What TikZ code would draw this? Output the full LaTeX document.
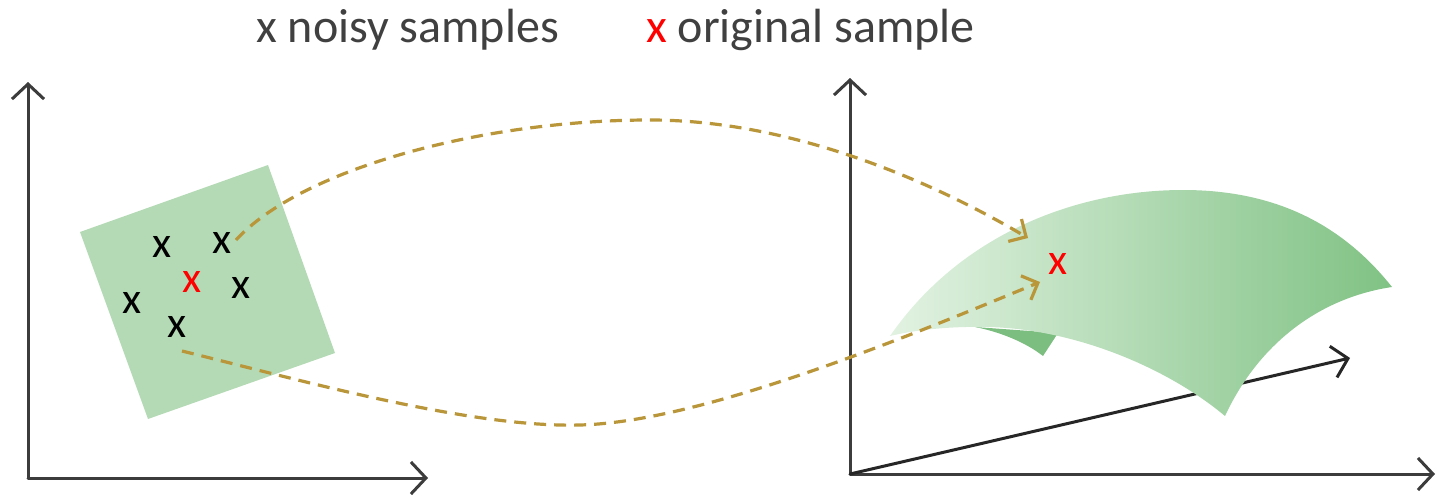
\documentclass[tikz,border=0pt]{standalone}
\usepackage{fontspec}
\setmainfont{Carlito}
\usetikzlibrary{arrows.meta}
\definecolor{axisgray}{RGB}{60,60,60}
\definecolor{flowgold}{RGB}{185,150,58}
\definecolor{patchgreen}{RGB}{180,218,181}
\definecolor{surfleft}{RGB}{226,242,226}
\definecolor{surfright}{RGB}{128,194,132}
\definecolor{flapgreen}{RGB}{124,189,128}
\definecolor{textgray}{RGB}{64,64,64}
\begin{document}
\begin{tikzpicture}[x=1pt, y=-1pt, line join=round, line cap=round,
    axis/.style={line width=3pt, draw=axisgray, -{Straight Barb[length=15pt,width=32pt]}},
    flow/.style={line width=3.2pt, draw=flowgold, line cap=butt, dash pattern=on 12pt off 8pt,
        -{Straight Barb[length=13pt,width=26pt]}},
    sample/.style={font=\fontsize{44}{44}\selectfont, inner sep=0pt},
    legend/.style={font=\fontsize{48}{48}\selectfont, text=textgray, inner sep=0pt}]
    \useasboundingbox (0,0) rectangle (1439,495);

    % left plot: axes
    \coordinate (O1) at (28,478);
    \coordinate (Y1) at (28,82);
    \coordinate (X1) at (428,478);
    \draw[axis] (O1) -- (Y1);
    \draw[axis] (O1) -- (X1);

    % noisy neighbourhood (rotated square)
    \fill[patchgreen] (80,232) -- (268,165) -- (335,353) -- (148,419) -- cycle;

    % samples
    \node[sample] (s1) at (162,247) {x};
    \node[sample] (s2) at (222,243) {x};
    \node[sample, text=red] (s0) at (192,282) {x};
    \node[sample] (s3) at (241,288) {x};
    \node[sample] (s4) at (132,303) {x};
    \node[sample] (s5) at (177,327) {x};

    % right plot: axes
    \coordinate (O2) at (850,474);
    \coordinate (Y2) at (850,78);
    \coordinate (X2) at (1435,474);
    \coordinate (Z2) at (1350,358);
    \draw[axis] (O2) -- (Y2);
    \draw[axis] (O2) -- (X2);
    \draw[axis, draw=black!85] (O2) -- (Z2);

    % curved surface (underside flap first)
    \fill[flapgreen] (975,327) .. controls (1000,332) and (1025,342) .. (1043,356)
        -- (1058,333) -- cycle;
    \shade[left color=surfleft, right color=surfright]
        (890,336) .. controls (960,235) and (1075,190) .. (1183,190)
        .. controls (1280,190) and (1345,228) .. (1392,287)
        .. controls (1318,298) and (1258,345) .. (1225,416)
        .. controls (1170,370) and (1080,330) .. (990,327)
        .. controls (950,326) and (915,330) .. (890,336) -- cycle;
    \node[sample, text=red] (t0) at (1058,264) {x};

    % mapping of the noisy samples
    \coordinate (a1) at (236,240);
    \coordinate (b1) at (1028,238);
    \coordinate (a2) at (182,351);
    \coordinate (b2) at (1040,282);
    \draw[flow] (a1) .. controls (300,170) and (480,120) .. (650,120)
        .. controls (790,120) and (930,180) .. (b1);
    \draw[flow] (a2) .. controls (300,380) and (470,428) .. (580,425)
        .. controls (700,422) and (900,340) .. (b2);

    % legend
    \node[legend, anchor=base west] (noisy) at (256,43) {x noisy samples};
    \node[legend, anchor=base west] (orig) at (646,43) {\textcolor{red}{x} original sample};
\end{tikzpicture}
\end{document}
